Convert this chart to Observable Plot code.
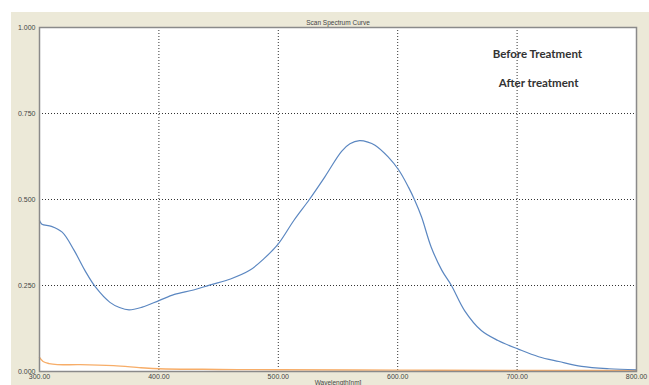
<!DOCTYPE html>
<html>
<head>
<meta charset="utf-8">
<script src="https://cdn.jsdelivr.net/npm/d3@7"></script>
<script src="https://cdn.jsdelivr.net/npm/@observablehq/plot@0.6"></script>
<style>
  html, body { margin: 0; padding: 0; background: #ffffff; overflow: hidden; }
  #panel { position: absolute; left: 11px; top: 12px; width: 638px; height: 373px; background: #ECE9D8; }
</style>
</head>
<body>
<div id="panel"></div>
<script>
const beforeWavelength = [300, 302, 310, 319, 329, 338, 347, 359, 367, 375, 386, 400, 413, 429, 443, 460, 476, 488, 500, 513, 526, 539, 553, 560, 568, 575, 581, 592, 601, 609, 614, 620, 628, 637, 645, 656, 670, 684, 701, 718, 735, 754, 777, 800];
const beforeAbs = [0.439, 0.428, 0.422, 0.405, 0.352, 0.294, 0.245, 0.201, 0.186, 0.179, 0.187, 0.206, 0.224, 0.237, 0.252, 0.269, 0.294, 0.328, 0.371, 0.439, 0.500, 0.566, 0.640, 0.662, 0.671, 0.667, 0.658, 0.624, 0.585, 0.536, 0.500, 0.449, 0.362, 0.294, 0.250, 0.177, 0.119, 0.090, 0.065, 0.043, 0.029, 0.015, 0.008, 0.005];
const afterWavelength = [300, 303, 308, 315, 334, 362, 385, 400, 450, 500, 600, 700, 800];
const afterAbs = [0.041, 0.029, 0.023, 0.020, 0.020, 0.017, 0.011, 0.008, 0.006, 0.005, 0.004, 0.003, 0.003];
const xTicks = [300, 400, 500, 600, 700, 800];
const yTicks = [0, 0.25, 0.5, 0.75, 1.0];
const xGrid = [400, 500, 600, 700];
const yGrid = [0.25, 0.5, 0.75];
const seriesNames = ["Before Treatment", "After treatment"];
const legendX = [717, 718];
const legendY = [0.923, 0.839];
const chartTitle = "Scan Spectrum Curve";
const xLabel = "Wavelength[nm]";

const before = beforeWavelength.map((w, i) => ({w, a: beforeAbs[i]}));
const after = afterWavelength.map((w, i) => ({w, a: afterAbs[i]}));
const legend = seriesNames.map((name, i) => ({name, x: legendX[i], y: legendY[i]}));

const chart = Plot.plot({
  width: 638,
  height: 373,
  marginLeft: 28,
  marginTop: 15,
  marginRight: 13,
  marginBottom: 14,
  style: {background: "transparent", fontFamily: "Liberation Sans, Arial, sans-serif", fontSize: "7px", color: "#444"},
  x: {domain: [300, 800], ticks: xTicks, tickFormat: d3.format(".2f")},
  y: {domain: [0, 1], ticks: yTicks, tickFormat: d3.format(".3f")},
  marks: [
    Plot.frame({fill: "white", stroke: "none"}),
    Plot.ruleX(xGrid, {stroke: "#333", strokeDasharray: "1,2", strokeWidth: 1}),
    Plot.ruleY(yGrid, {stroke: "#333", strokeDasharray: "1,2", strokeWidth: 1}),
    Plot.axisX({ticks: xTicks, tickSize: 0, tickPadding: 3, tickFormat: d3.format(".2f"), label: null}),
    Plot.axisY({ticks: yTicks, tickSize: 0, tickPadding: 4, tickFormat: d3.format(".3f"), label: null}),
    Plot.line(after, {x: "w", y: "a", stroke: "#F7AD68", strokeWidth: 1.4, curve: "catmull-rom"}),
    Plot.line(before, {x: "w", y: "a", stroke: "#5B87C1", strokeWidth: 1.2, curve: "catmull-rom"}),
    Plot.frame({stroke: "#8a8a8a", strokeWidth: 1.5}),
    Plot.text(legend, {x: "x", y: "y", text: "name", fontFamily: "Lato, Open Sans, sans-serif", fontWeight: "bold", fontSize: 11.5, fill: "#333"}),
    Plot.text([chartTitle], {frameAnchor: "top", dy: -7, fontSize: 6.5, fill: "#444"}),
    Plot.text([xLabel], {frameAnchor: "bottom", dy: 13.5, lineAnchor: "bottom", fontSize: 6.5, fill: "#444"})
  ]
});
document.getElementById("panel").appendChild(chart);
</script>
</body>
</html>
